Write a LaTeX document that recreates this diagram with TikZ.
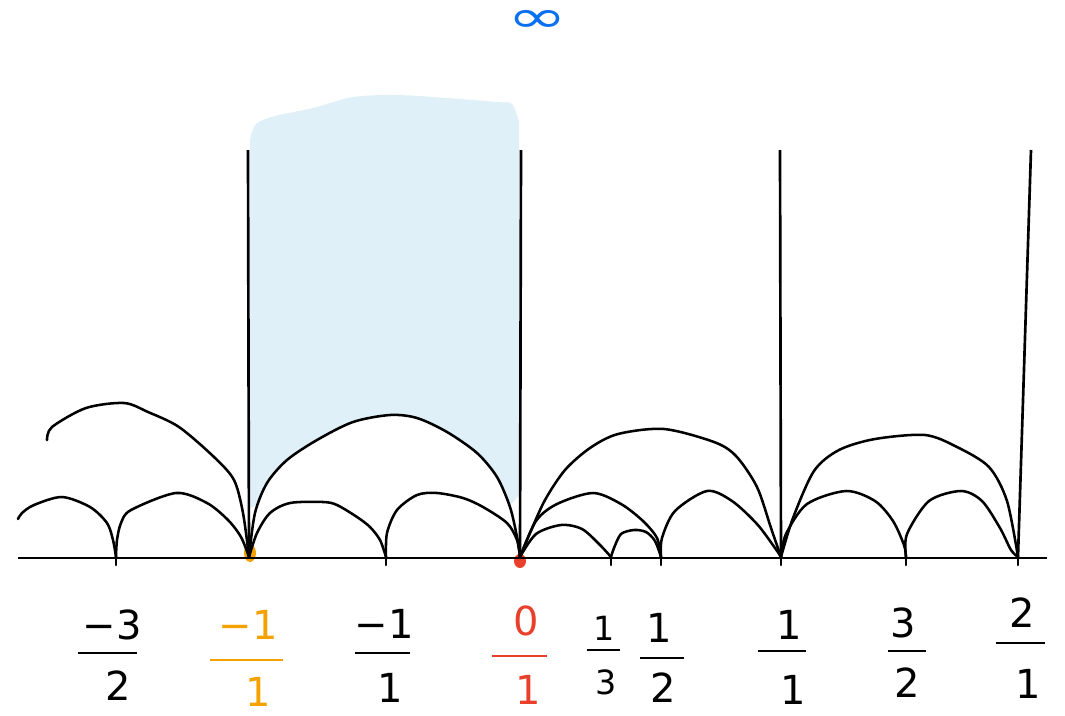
\documentclass[tikz,border=0pt]{standalone}
\usepackage{fontspec}
\setmainfont{DejaVu Sans}
\definecolor{skyfill}{HTML}{E0F0F8}
\definecolor{infblue}{HTML}{0A70F2}
\definecolor{orng}{HTML}{F5A200}
\definecolor{rd}{HTML}{E8402A}
\tikzset{
  arcline/.style={line width=1.9pt, line cap=round, line join=round},
  axisline/.style={line width=2pt},
  vline/.style={line width=2pt},
  lab/.style={inner sep=0pt, font=\fontsize{30}{30}\selectfont},
  smalllab/.style={inner sep=0pt, font=\fontsize{25}{25}\selectfont},
  fracbar/.style={line width=1.9pt},
}
\begin{document}
\begin{tikzpicture}[x=0.75pt,y=-0.75pt]
\useasboundingbox (0,0) rectangle (1065,715);
% axis points
\coordinate (axL) at (18,558);
\coordinate (axR) at (1047,558);
\coordinate (pA) at (116,557);
\coordinate (pB) at (249,557);
\coordinate (pC) at (386,557);
\coordinate (pD) at (520,557);
\coordinate (pE) at (611,557);
\coordinate (pF) at (661,557);
\coordinate (pG) at (781,557);
\coordinate (pH) at (906,557);
\coordinate (pI) at (1018,557);
\coordinate (tB) at (248,150);
\coordinate (tD) at (521,150);
\coordinate (tG) at (780,150);
\coordinate (tI) at (1031,150);
\coordinate (s1) at (47,440);
\coordinate (s5) at (18,519);
% shaded region
\fill[skyfill] plot[smooth] coordinates {(250,140) (256,124) (275,116) (313,108) (353,97) (397,95) (447,98) (497,102) (512,104) (519,122)}
  -- (519,495) -- (509,507)
  -- plot[smooth] coordinates {(497,477) (477,453) (447,432) (417,418) (390,415) (353,422) (317,440) (287,460) (267,483) (258,505)}
  -- (250,508) -- cycle;
% dots
\fill[orng] (250,553) ellipse [x radius=6, y radius=9];
\fill[rd] (520,561) ellipse [x radius=6, y radius=7];
% axis
\draw[axisline] (axL) -- (axR);
% vertical lines
\draw[vline] (tB) -- (pB);
\draw[vline] (tD) -- (pD);
\draw[vline] (tG) -- (pG);
\draw[vline] (tI) -- (pI);
% big arcs
\draw[arcline] plot[smooth] coordinates {(s1) (52,427) (86,408) (124,403) (148,412) (179,427) (214,457) (234,480) (243,513) (pB)};
\draw[arcline] plot[smooth] coordinates {(pB) (255,513) (267,483) (287,460) (317,440) (353,422) (390,415) (417,418) (447,432) (477,453) (497,477) (510,507) (517,537) (pD)};
\draw[arcline] plot[smooth] coordinates {(pD) (530,533) (545,500) (565,470) (590,448) (618,434) (664,429) (714,442) (736,456) (757,487) (771,528) (pG)};
\draw[arcline] plot[smooth] coordinates {(pG) (793,518) (814,471) (839,450) (875,439) (925,435) (957,447) (989,467) (1007,501) (pI)};
% small arcs
\draw[arcline] plot[smooth] coordinates {(s5) (22,513) (34,505) (62,497) (90,507) (107,523) (113,540) (pA)};
\draw[arcline] plot[smooth] coordinates {(pA) (117,540) (121,523) (131,510) (176,493) (207,503) (228,520) (241,537) (pB)};
\draw[arcline] plot[smooth] coordinates {(pB) (257,533) (270,513) (290,503) (323,502) (337,505) (357,517) (370,527) (380,540) (pC)};
\draw[arcline] plot[smooth] coordinates {(pC) (387,533) (397,510) (417,495) (437,493) (463,498) (483,507) (507,523) (517,540) (pD)};
\draw[arcline] plot[smooth] coordinates {(pD) (536,521) (557,504) (593,493) (621,504) (643,521) (657,538) (pF)};
\draw[arcline] plot[smooth] coordinates {(pD) (536,534) (561,525) (582,529) (600,545) (pE)};
\draw[arcline] plot[smooth] coordinates {(pE) (614,548) (621,534) (634,530) (646,532) (655,541) (pF)};
\draw[arcline] plot[smooth] coordinates {(pF) (662,538) (675,511) (707,491) (732,501) (757,524) (775,548) (pG)};
\draw[arcline] plot[smooth] coordinates {(pG) (786,534) (807,504) (846,491) (875,501) (893,521) (904,545) (pH)};
\draw[arcline] plot[smooth] coordinates {(pH) (907,534) (929,501) (961,491) (982,501) (1000,528) (1011,550) (pI)};
% small ticks below the axis
\foreach \p in {pA,pC,pE,pF,pG,pH,pI} \draw[arcline] (\p) -- ([yshift=-6pt]\p);
% infinity
\node[text=infblue, inner sep=0pt, font=\fontsize{40}{40}\selectfont] (inf) at (537,21) {\scalebox{1.35}[0.85]{∞}};
% labels
\node[lab] (nA) at (112,625) {−3};
\coordinate (bA1) at (78,653); \coordinate (bA2) at (137,653);
\draw[fracbar] (bA1) -- (bA2);
\node[lab] (dA) at (118,686) {2};

\node[lab, text=orng] (nB) at (248,625) {−1};
\coordinate (bB1) at (210,660); \coordinate (bB2) at (283,660);
\draw[fracbar, orng] (bB1) -- (bB2);
\node[lab, text=orng] (dB) at (258,692) {1};

\node[lab] (nC) at (384,624) {−1};
\coordinate (bC1) at (355,653); \coordinate (bC2) at (410,653);
\draw[fracbar] (bC1) -- (bC2);
\node[lab] (dC) at (390,688) {1};

\node[lab, text=rd] (nD) at (526,621) {0};
\coordinate (bD1) at (492,656); \coordinate (bD2) at (547,656);
\draw[fracbar, rd] (bD1) -- (bD2);
\node[lab, text=rd] (dD) at (528,690) {1};

\node[smalllab] (nE) at (604,628) {1};
\coordinate (bE1) at (587,650); \coordinate (bE2) at (620,650);
\draw[fracbar] (bE1) -- (bE2);
\node[smalllab] (dE) at (606,682) {3};

\node[lab] (nF) at (659,628) {1};
\coordinate (bF1) at (640,658); \coordinate (bF2) at (684,658);
\draw[fracbar] (bF1) -- (bF2);
\node[lab] (dF) at (663,688) {2};

\node[lab] (nG) at (789,625) {1};
\coordinate (bG1) at (758,651); \coordinate (bG2) at (806,651);
\draw[fracbar] (bG1) -- (bG2);
\node[lab] (dG) at (793,690) {1};

\node[lab] (nH) at (903,623) {3};
\coordinate (bH1) at (888,651); \coordinate (bH2) at (926,651);
\draw[fracbar] (bH1) -- (bH2);
\node[lab] (dH) at (907,683) {2};

\node[lab] (nI) at (1022,613) {2};
\coordinate (bI1) at (996,643); \coordinate (bI2) at (1045,643);
\draw[fracbar] (bI1) -- (bI2);
\node[lab] (dI) at (1028,684) {1};
\end{tikzpicture}
\end{document}
